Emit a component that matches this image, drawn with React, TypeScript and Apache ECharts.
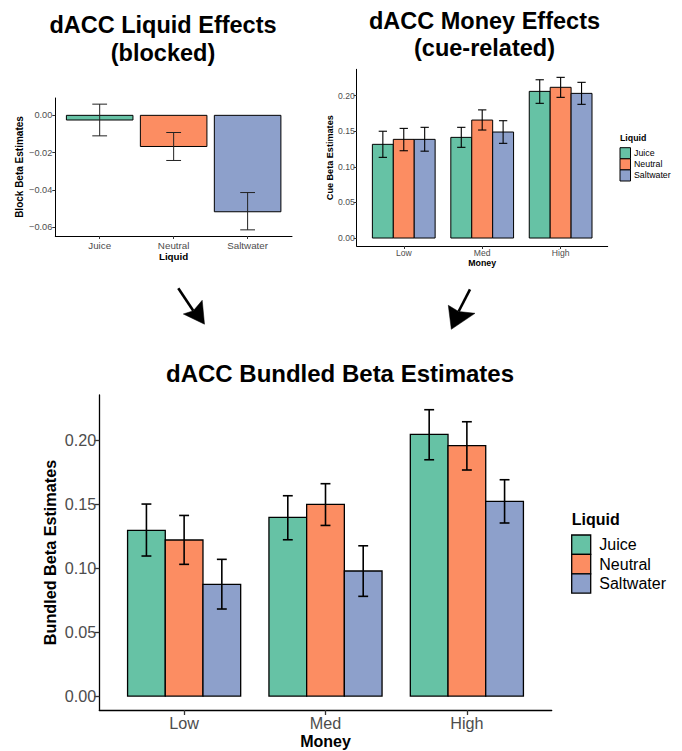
import React, { useEffect, useRef } from "react";
import * as echarts from "echarts";

// ---- Data ----
const liquids = ["Juice", "Neutral", "Saltwater"];
const moneyLevels = ["Low", "Med", "High"];
const liquidColors = ["#66C2A5", "#FC8D62", "#8DA0CB"];

// Panel A: block (liquid) effects
const blockMean = [-0.0025, -0.0167, -0.0517];
const blockLo = [-0.011, -0.0242, -0.0614];
const blockHi = [0.006, -0.0092, -0.0414];

// Panel B: cue-related money effects (per liquid, over Low/Med/High)
const cueJuice = [0.1316, 0.1414, 0.206];
const cueJuiceLo = [0.1133, 0.1274, 0.1892];
const cueJuiceHi = [0.15, 0.1555, 0.2223];
const cueNeutral = [0.1386, 0.1657, 0.2117];
const cueNeutralLo = [0.1226, 0.1517, 0.1976];
const cueNeutralHi = [0.154, 0.18, 0.2257];
const cueSalt = [0.1386, 0.1489, 0.2032];
const cueSaltLo = [0.122, 0.133, 0.1878];
const cueSaltHi = [0.1555, 0.1648, 0.2187];

// Panel C: bundled estimates
const bunJuice = [0.1294, 0.1396, 0.2044];
const bunJuiceLo = [0.1094, 0.1221, 0.1846];
const bunJuiceHi = [0.15, 0.1565, 0.2237];
const bunNeutral = [0.1219, 0.1497, 0.1956];
const bunNeutralLo = [0.1029, 0.1333, 0.1766];
const bunNeutralHi = [0.1411, 0.1659, 0.2143];
const bunSalt = [0.0873, 0.0977, 0.1521];
const bunSaltLo = [0.068, 0.0779, 0.1352];
const bunSaltHi = [0.1068, 0.1174, 0.169];

const blockTicks = [0, -0.02, -0.04, -0.06];
const moneyTicks = [0, 0.05, 0.1, 0.15, 0.2];

const FONT = "Liberation Sans, Arial, Helvetica, sans-serif";

function fmt(v: number) {
  const s = Math.abs(v).toFixed(2);
  return v < -1e-9 ? "\u2212" + s : s;
}

function grouped(means: number[][], los: number[][], his: number[][]) {
  const out: number[][] = [];
  const w = 0.8 / 3;
  for (let g = 0; g < 3; g++) {
    for (let j = 0; j < 3; j++) {
      out.push([g + (j - 1) * w, means[j][g], los[j][g], his[j][g], j]);
    }
  }
  return out;
}

function barRender(halfW: number, lw: number) {
  return (params: any, api: any) => {
    const x = api.value(0);
    const v = api.value(1);
    const c = api.value(4);
    const p1 = api.coord([x - halfW, v]);
    const p2 = api.coord([x + halfW, 0]);
    return {
      type: "rect",
      shape: {
        x: Math.min(p1[0], p2[0]),
        y: Math.min(p1[1], p2[1]),
        width: Math.abs(p2[0] - p1[0]),
        height: Math.abs(p2[1] - p1[1]),
      },
      style: { fill: liquidColors[c], stroke: "#000", lineWidth: lw },
    };
  };
}

function errRender(halfCap: number, lw: number, color: string) {
  return (params: any, api: any) => {
    const x = api.value(0);
    const lo = api.value(2);
    const hi = api.value(3);
    const a = api.coord([x, lo]);
    const b = api.coord([x, hi]);
    const l1 = api.coord([x - halfCap, lo]);
    const r1 = api.coord([x + halfCap, lo]);
    const l2 = api.coord([x - halfCap, hi]);
    const r2 = api.coord([x + halfCap, hi]);
    const st = { stroke: color, lineWidth: lw };
    return {
      type: "group",
      children: [
        { type: "line", shape: { x1: a[0], y1: a[1], x2: b[0], y2: b[1] }, style: st },
        { type: "line", shape: { x1: l1[0], y1: l1[1], x2: r1[0], y2: r1[1] }, style: st },
        { type: "line", shape: { x1: l2[0], y1: l2[1], x2: r2[0], y2: r2[1] }, style: st },
      ],
    };
  };
}

function xAxisDef(gridIndex: number, labels: string[], fs: number, margin: number, lw: number, tickLen: number) {
  return {
    type: "value",
    gridIndex,
    min: -0.6,
    max: 2.6,
    splitLine: { show: false },
    axisLine: { show: true, onZero: false, lineStyle: { color: "#000", width: lw } },
    axisTick: { show: true, length: tickLen, customValues: [0, 1, 2], lineStyle: { color: "#333", width: lw } },
    axisLabel: {
      show: true,
      customValues: [0, 1, 2],
      formatter: (v: number) => labels[Math.round(v)],
      color: "#4D4D4D",
      fontSize: fs,
      fontFamily: FONT,
      margin,
    },
  };
}

function yAxisDef(gridIndex: number, min: number, max: number, ticks: number[], fs: number, margin: number, lw: number, tickLen: number) {
  return {
    type: "value",
    gridIndex,
    min,
    max,
    splitLine: { show: false },
    axisLine: { show: true, onZero: false, lineStyle: { color: "#000", width: lw } },
    axisTick: { show: true, length: tickLen, customValues: ticks, lineStyle: { color: "#333", width: lw } },
    axisLabel: {
      show: true,
      customValues: ticks,
      formatter: (v: number) => fmt(v),
      color: "#4D4D4D",
      fontSize: fs,
      fontFamily: FONT,
      margin,
    },
  };
}

function txt(x: number, y: number, text: string, fs: number, opts: any = {}) {
  return {
    type: "text",
    x,
    y,
    rotation: opts.rotation || 0,
    style: {
      text,
      fontSize: fs,
      fontWeight: opts.bold ? "bold" : "normal",
      fontFamily: FONT,
      fill: opts.color || "#000",
      align: opts.align || "center",
      verticalAlign: "middle",
    },
  };
}

function legend(x: number, titleY: number, boxTop: number, boxW: number, boxH: number, labelX: number, fs: number, lw: number) {
  const items: any[] = [txt(x, titleY, "Liquid", fs, { bold: true, align: "left" })];
  liquids.forEach((name, i) => {
    const top = boxTop + i * boxH;
    items.push({
      type: "rect",
      shape: { x, y: top, width: boxW, height: boxH },
      style: { fill: liquidColors[i], stroke: "#000", lineWidth: lw },
    });
    items.push(txt(labelX, top + boxH / 2, name, fs, { align: "left" }));
  });
  return items;
}

function arrow(sx: number, sy: number, nx: number, ny: number, tx: number, ty: number, b1: number[], b2: number[]) {
  return [
    { type: "line", shape: { x1: sx, y1: sy, x2: nx, y2: ny }, style: { stroke: "#000", lineWidth: 2.6 } },
    {
      type: "polygon",
      shape: { points: [[tx, ty], b1, [nx, ny], b2] },
      style: { fill: "#000", stroke: "#000", lineWidth: 0.5 },
    },
  ];
}

export default function App() {
  const ref = useRef<HTMLDivElement>(null);
  useEffect(() => {
    if (!ref.current) return;
    const chart = echarts.init(ref.current, null, { renderer: "svg" });

    const blockData = liquids.map((_, j) => [j, blockMean[j], blockLo[j], blockHi[j], j]);
    const cueData = grouped(
      [cueJuice, cueNeutral, cueSalt],
      [cueJuiceLo, cueNeutralLo, cueSaltLo],
      [cueJuiceHi, cueNeutralHi, cueSaltHi]
    );
    const bunData = grouped(
      [bunJuice, bunNeutral, bunSalt],
      [bunJuiceLo, bunNeutralLo, bunSaltLo],
      [bunJuiceHi, bunNeutralHi, bunSaltHi]
    );

    const option: any = {
      animation: false,
      backgroundColor: "#fff",
      grid: [
        { left: 55.3, top: 98, width: 236.7, height: 138 },
        { left: 356.7, top: 69.3, width: 251, height: 176.7 },
        { left: 99.3, top: 395, width: 452.4, height: 315 },
      ],
      xAxis: [
        xAxisDef(0, liquids, 9.8, 4, 1, 3),
        xAxisDef(1, moneyLevels, 8.6, 2.5, 1, 3),
        xAxisDef(2, moneyLevels, 16.2, 5, 1.3, 5),
      ],
      yAxis: [
        yAxisDef(0, -0.0647, 0.0093, blockTicks, 9.2, 3, 1, 3),
        yAxisDef(1, -0.0112, 0.237, moneyTicks, 8.6, 2, 1, 3),
        yAxisDef(2, -0.0109, 0.2352, moneyTicks, 16.2, 3, 1.3, 5),
      ],
      series: [
        {
          type: "custom",
          name: "Block bars",
          xAxisIndex: 0,
          yAxisIndex: 0,
          renderItem: barRender(0.45, 1),
          data: blockData,
          z: 2,
        },
        {
          type: "custom",
          name: "Block errors",
          xAxisIndex: 0,
          yAxisIndex: 0,
          renderItem: errRender(0.1, 1, "#222"),
          data: blockData,
          z: 3,
        },
        {
          type: "custom",
          name: "Cue bars",
          xAxisIndex: 1,
          yAxisIndex: 1,
          renderItem: barRender(0.4 / 3, 1),
          data: cueData,
          z: 2,
        },
        {
          type: "custom",
          name: "Cue errors",
          xAxisIndex: 1,
          yAxisIndex: 1,
          renderItem: errRender(0.053, 1.1, "#000"),
          data: cueData,
          z: 3,
        },
        {
          type: "custom",
          name: "Bundled bars",
          xAxisIndex: 2,
          yAxisIndex: 2,
          renderItem: barRender(0.4 / 3, 1.3),
          data: bunData,
          z: 2,
        },
        {
          type: "custom",
          name: "Bundled errors",
          xAxisIndex: 2,
          yAxisIndex: 2,
          renderItem: errRender(0.035, 1.6, "#000"),
          data: bunData,
          z: 3,
        },
      ],
      graphic: [
        // titles
        txt(163, 25.3, "dACC Liquid Effects", 23.5, { bold: true }),
        txt(163, 53, "(blocked)", 23.5, { bold: true }),
        txt(484.5, 20.8, "dACC Money Effects", 23.5, { bold: true }),
        txt(484.5, 47.5, "(cue-related)", 23.5, { bold: true }),
        txt(340, 373.8, "dACC Bundled Beta Estimates", 24, { bold: true }),
        // axis titles
        txt(19.3, 167, "Block Beta Estimates", 10, { bold: true, rotation: Math.PI / 2 }),
        txt(173.6, 256, "Liquid", 9.8, { bold: true }),
        txt(329.5, 157.7, "Cue Beta Estimates", 9.1, { bold: true, rotation: Math.PI / 2 }),
        txt(482.2, 263, "Money", 8.8, { bold: true }),
        txt(50, 552.5, "Bundled Beta Estimates", 16.2, { bold: true, rotation: Math.PI / 2 }),
        txt(325.5, 741, "Money", 16, { bold: true }),
        // legends
        ...legend(620, 138.3, 147.7, 10.5, 11.1, 634, 8.8, 1),
        ...legend(571.7, 519.5, 535, 19, 19.4, 599.3, 16, 1.3),
        // arrows
        ...arrow(178.3, 288.3, 193.3, 310.8, 204.5, 324.2, [183.3, 314], [202.2, 300.3]),
        ...arrow(470, 289.3, 458.6, 311.5, 451.3, 329.3, [448.3, 305.3], [475, 313.3]),
      ],
    };
    chart.setOption(option);
    return () => chart.dispose();
  }, []);
  return (
    <div
      ref={ref}
      style={{ position: "fixed", left: 0, top: 0, width: 682, height: 751, background: "#fff" }}
    />
  );
}
